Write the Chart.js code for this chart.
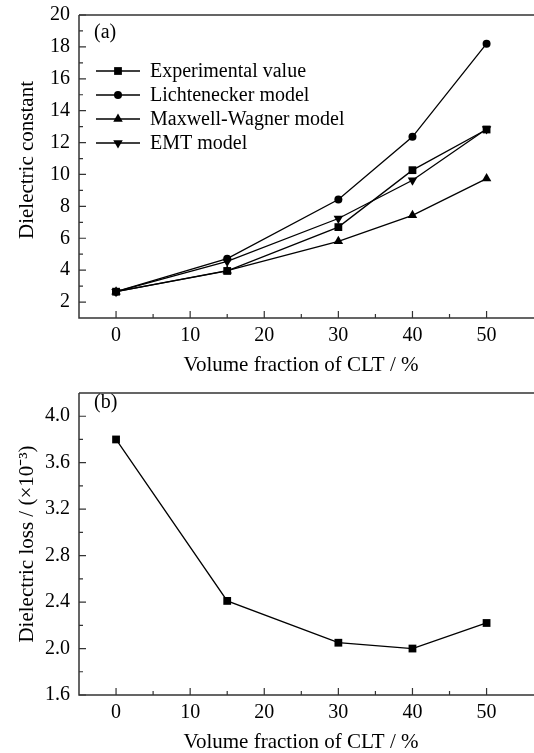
<!DOCTYPE html>
<html>
<head>
<meta charset="utf-8">
<script src="https://cdn.jsdelivr.net/npm/chart.js@4/dist/chart.umd.min.js"></script>
<style>
  body { margin: 0; background: #fff; overflow: hidden; }
  .box { position: relative; width: 534px; }
  #box1 { height: 376px; }
  #box2 { height: 377px; }
</style>
</head>
<body>
<div class="box" id="box1"><canvas id="chartA"></canvas></div>
<div class="box" id="box2"><canvas id="chartB"></canvas></div>
<script>
// values
var fraction = [0, 15, 30, 40, 50];
var experimental = [2.65, 3.95, 6.7, 10.27, 12.82];
var lichtenecker = [2.65, 4.72, 8.43, 12.36, 18.2];
var maxwellWagner = [2.65, 3.97, 5.81, 7.44, 9.74];
var emt = [2.65, 4.55, 7.24, 9.64, 12.85];
var loss = [3.80, 2.41, 2.05, 2.00, 2.22];

var xMajor = [0, 10, 20, 30, 40, 50];
var xMinor = [5, 15, 25, 35, 45];
var yMajorA = [2, 4, 6, 8, 10, 12, 14, 16, 18, 20];
var yMinorA = [3, 5, 7, 9, 11, 13, 15, 17, 19];
var yMajorB = [1.6, 2.0, 2.4, 2.8, 3.2, 3.6, 4.0];
var yMinorB = [1.8, 2.2, 2.6, 3.0, 3.4, 3.8];

var FONT = '"Liberation Serif", "Times New Roman", serif';

function pts(ys) {
  return fraction.map(function(x, i) { return {x: x, y: ys[i]}; });
}

function marker(ctx, style, rot, r, x, y) {
  ctx.beginPath();
  if (style === 'rect') {
    var s = r * Math.SQRT1_2;
    ctx.rect(x - s, y - s, 2 * s, 2 * s);
  } else if (style === 'circle') {
    ctx.arc(x, y, r, 0, Math.PI * 2);
  } else {
    var a = rot * Math.PI / 180;
    for (var k = 0; k < 3; k++) {
      var t = a - Math.PI / 2 + k * 2 * Math.PI / 3;
      var px = x + r * Math.cos(t), py = y + r * Math.sin(t);
      if (k === 0) ctx.moveTo(px, py); else ctx.lineTo(px, py);
    }
    ctx.closePath();
  }
  ctx.fill();
}

// axes frame, inward ticks, titles, panel label and legend
var framePlugin = {
  id: 'frame',
  afterDraw: function(chart, args, o) {
    var ctx = chart.ctx, a = chart.chartArea;
    var xs = chart.scales.x, ys = chart.scales.y;
    ctx.save();
    ctx.strokeStyle = '#333';
    ctx.lineWidth = 1.5;
    ctx.beginPath();
    ctx.moveTo(a.left, a.top); ctx.lineTo(a.left, a.bottom); ctx.lineTo(a.right, a.bottom);
    ctx.moveTo(a.left, a.top); ctx.lineTo(a.right, a.top);
    ctx.stroke();

    ctx.lineWidth = 1.2;
    ctx.beginPath();
    xMajor.forEach(function(v) { var p = xs.getPixelForValue(v); ctx.moveTo(p, a.bottom); ctx.lineTo(p, a.bottom - 7); });
    xMinor.forEach(function(v) { var p = xs.getPixelForValue(v); ctx.moveTo(p, a.bottom); ctx.lineTo(p, a.bottom - 4); });
    o.yMajor.forEach(function(v) { var p = ys.getPixelForValue(v); ctx.moveTo(a.left, p); ctx.lineTo(a.left + 7, p); });
    o.yMinor.forEach(function(v) { var p = ys.getPixelForValue(v); ctx.moveTo(a.left, p); ctx.lineTo(a.left + 4, p); });
    ctx.stroke();

    ctx.fillStyle = '#000';
    ctx.font = '21px ' + FONT;
    ctx.textAlign = 'center';
    ctx.textBaseline = 'middle';
    ctx.fillText(o.xTitle, 301, chart.height - 11);
    ctx.save();
    ctx.translate(27, o.yTitleY);
    ctx.rotate(-Math.PI / 2);
    ctx.fillText(o.yTitle, 0, 0);
    ctx.restore();

    ctx.font = '20px ' + FONT;
    ctx.textAlign = 'left';
    ctx.fillText(o.panel, 94, o.panelY);

    if (o.legend) {
      chart.data.datasets.forEach(function(ds, i) {
        var y = 71 + i * 24;
        ctx.strokeStyle = '#000';
        ctx.lineWidth = 1.3;
        ctx.beginPath(); ctx.moveTo(96, y); ctx.lineTo(140, y); ctx.stroke();
        marker(ctx, ds.pointStyle, ds.pointRotation || 0, ds.pointRadius, 118, y);
        ctx.fillText(ds.label, 150, y + 1);
      });
    }
    ctx.restore();
  }
};

function lineSet(label, data, style, r, rot) {
  return {
    label: label, data: pts(data),
    borderColor: '#000', borderWidth: 1.3,
    pointStyle: style, pointRadius: r, pointRotation: rot || 0,
    pointBackgroundColor: '#000', pointBorderColor: '#000', pointBorderWidth: 0,
    tension: 0
  };
}

function makeOptions(yMin, yMax, yMajor, yMinor, fmt, padTop, frame) {
  return {
    responsive: true, maintainAspectRatio: false, animation: false,
    layout: { autoPadding: false, padding: { top: padTop, left: 0, right: 0, bottom: 0 } },
    plugins: { legend: { display: false }, tooltip: { enabled: false }, frame: frame },
    scales: {
      x: {
        type: 'linear', min: -5, max: 56.4,
        grid: { display: false, drawTicks: false }, border: { display: false },
        afterBuildTicks: function(s) { s.ticks = xMajor.map(function(v) { return {value: v}; }); },
        afterFit: function(s) { s.height = 58; s.paddingLeft = 0; s.paddingRight = 0; },
        ticks: { color: '#000', padding: 6, maxRotation: 0, font: { family: FONT, size: 20 } }
      },
      y: {
        min: yMin, max: yMax,
        grid: { display: false, drawTicks: false }, border: { display: false },
        afterBuildTicks: function(s) { s.ticks = yMajor.map(function(v) { return {value: v}; }); },
        afterFit: function(s) { s.width = 79; s.paddingTop = 0; s.paddingBottom = 0; },
        ticks: { color: '#000', padding: 9, font: { family: FONT, size: 20 }, callback: fmt }
      }
    }
  };
}

new Chart(document.getElementById('chartA'), {
  type: 'line',
  data: {
    datasets: [
      lineSet('Experimental value', experimental, 'rect', 5.5),
      lineSet('Lichtenecker model', lichtenecker, 'circle', 4),
      lineSet('Maxwell-Wagner model', maxwellWagner, 'triangle', 5.5),
      lineSet('EMT model', emt, 'triangle', 5.5, 180)
    ]
  },
  options: makeOptions(1, 20, yMajorA, yMinorA, function(v) { return v; }, 15, {
    yMajor: yMajorA, yMinor: yMinorA, xTitle: 'Volume fraction of CLT / %',
    yTitle: 'Dielectric constant', yTitleY: 160, panel: '(a)', panelY: 33, legend: true
  }),
  plugins: [framePlugin]
});

new Chart(document.getElementById('chartB'), {
  type: 'line',
  data: {
    datasets: [lineSet('Dielectric loss', loss, 'rect', 5.5)]
  },
  options: makeOptions(1.6, 4.2, yMajorB, yMinorB, function(v) { return v.toFixed(1); }, 17, {
    yMajor: yMajorB, yMinor: yMinorB, xTitle: 'Volume fraction of CLT / %',
    yTitle: 'Dielectric loss / (\u00d710\u207b\u00b3)', yTitleY: 168, panel: '(b)', panelY: 27, legend: false
  }),
  plugins: [framePlugin]
});
</script>
</body>
</html>
